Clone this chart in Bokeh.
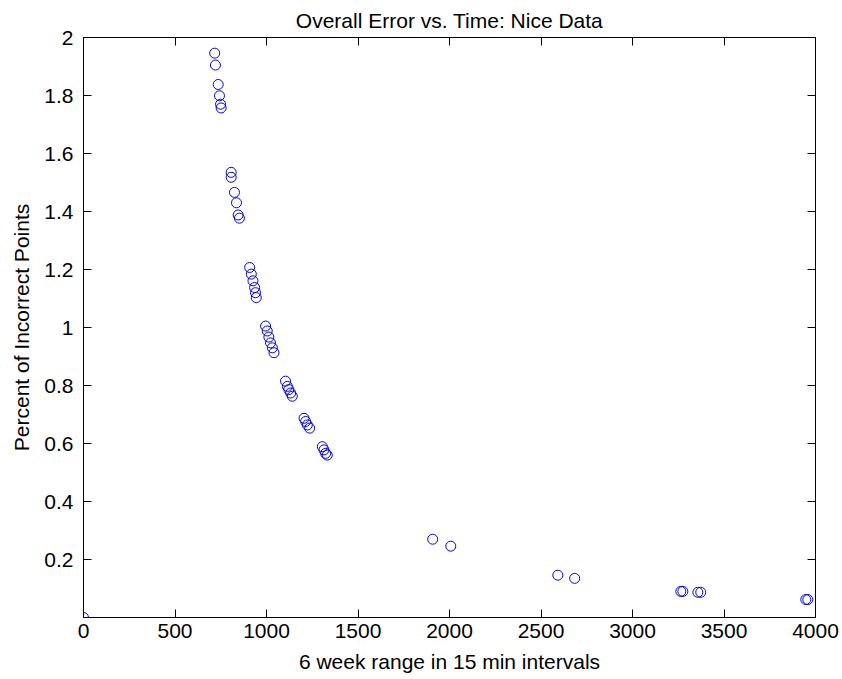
from bokeh.plotting import figure
from bokeh.models import LinearAxis, FixedTicker, Range1d
from bokeh.embed import file_html
from bokeh.resources import INLINE

# data
x_vals = [0, 717, 721, 736, 743, 749, 752,
          807, 807, 825, 836, 845, 852,
          908, 917, 926, 935, 940, 944,
          995, 1004, 1013, 1022, 1032, 1041,
          1104, 1114, 1122, 1132, 1141,
          1205, 1214, 1223, 1236,
          1305, 1314, 1323, 1332,
          1908, 2007, 2592, 2684, 3264, 3275, 3357, 3373, 3947, 3958]
y_vals = [0.0, 1.946, 1.905, 1.838, 1.799, 1.770, 1.757,
          1.535, 1.518, 1.466, 1.430, 1.388, 1.377,
          1.207, 1.184, 1.161, 1.138, 1.120, 1.103,
          1.005, 0.988, 0.967, 0.947, 0.930, 0.913,
          0.815, 0.797, 0.786, 0.774, 0.763,
          0.687, 0.676, 0.664, 0.653,
          0.589, 0.578, 0.566, 0.560,
          0.270, 0.246, 0.146, 0.135, 0.090, 0.090, 0.087, 0.087, 0.062, 0.062]

x_ticks = [0, 500, 1000, 1500, 2000, 2500, 3000, 3500, 4000]
y_ticks = [0.2, 0.4, 0.6, 0.8, 1, 1.2, 1.4, 1.6, 1.8, 2]
y_tick_labels = ["0.2", "0.4", "0.6", "0.8", "1", "1.2", "1.4", "1.6", "1.8", "2"]

title_text = "Overall Error vs. Time: Nice Data"
x_label = "6 week range in 15 min intervals"
y_label = "Percent of Incorrect Points"

FONT = "Liberation Sans"
FS = "21px"

p = figure(width=842, height=679, output_backend="svg", toolbar_location=None,
           x_range=Range1d(0, 4000), y_range=Range1d(0, 2),
           min_border_left=83, min_border_right=27, min_border_top=36,
           min_border_bottom=62, x_axis_location=None, y_axis_location=None)

p.title.text = title_text
p.title.text_font = FONT
p.title.text_font_size = FS
p.title.text_font_style = "normal"
p.title.align = "center"
p.title.text_color = "#000000"
p.title.standoff = 12

p.xgrid.visible = False
p.ygrid.visible = False
p.outline_line_color = "#000000"
p.background_fill_color = "white"
p.border_fill_color = "white"

def style_axis(ax, ticks, show_labels, label=None, standoff=6, lab_standoff=2):
    ax.ticker = FixedTicker(ticks=ticks)
    ax.major_tick_in = 8
    ax.major_tick_out = 0
    ax.minor_tick_line_color = None
    ax.axis_line_color = "#000000"
    ax.major_tick_line_color = "#000000"
    ax.axis_line_width = 1
    ax.major_tick_line_width = 1
    if show_labels:
        ax.major_label_text_font = FONT
        ax.major_label_text_font_size = FS
        ax.major_label_text_color = "#000000"
        ax.major_label_standoff = standoff
        ax.axis_label = label
        ax.axis_label_text_font = FONT
        ax.axis_label_text_font_size = FS
        ax.axis_label_text_font_style = "normal"
        ax.axis_label_text_color = "#000000"
        ax.axis_label_standoff = lab_standoff
    else:
        ax.major_label_text_font_size = "0px"
        ax.major_label_text_color = None
        ax.major_label_standoff = 0

xb = LinearAxis()
style_axis(xb, x_ticks, True, x_label, standoff=6, lab_standoff=9)
p.add_layout(xb, "below")

yl = LinearAxis()
style_axis(yl, y_ticks, True, y_label, standoff=10, lab_standoff=8)
yl.major_label_overrides = {t: s for t, s in zip(y_ticks, y_tick_labels)}
p.add_layout(yl, "left")

xt = LinearAxis()
style_axis(xt, x_ticks, False)
p.add_layout(xt, "above")

yr = LinearAxis()
style_axis(yr, y_ticks, False)
p.add_layout(yr, "right")

p.scatter(x_vals, y_vals, marker="circle", size=10, fill_color=None,
          line_color="#0000ff", line_width=1)

open("out.html", "w").write(file_html(p, INLINE))
